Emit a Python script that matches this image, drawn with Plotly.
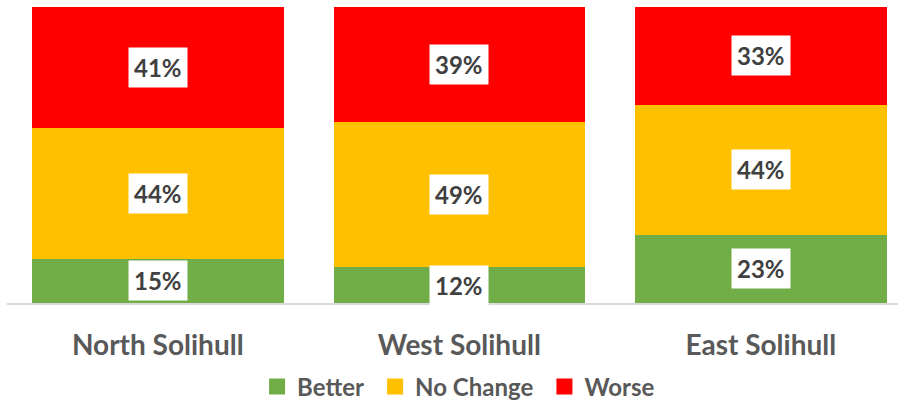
import plotly.graph_objects as go

# Survey outcome share by locality
areas = ["North Solihull", "West Solihull", "East Solihull"]
better = [15, 12, 23]
no_change = [44, 49, 44]
worse = [41, 39, 33]

series = [
    ("Better", better, "#70AD47"),
    ("No Change", no_change, "#FFC000"),
    ("Worse", worse, "#FF0000"),
]

FONT = "Lato"
fig = go.Figure()
for name, vals, color in series:
    fig.add_trace(go.Bar(
        name=name, x=areas, y=vals, marker=dict(color=color, line=dict(width=0)),
        hoverinfo="skip", showlegend=False,
    ))

# Legend keys drawn as larger square swatches
for name, vals, color in series:
    fig.add_trace(go.Scatter(
        name=f"<b>{name}</b>&nbsp;", x=[None], y=[None], mode="markers",
        marker=dict(symbol="square", size=16, color=color),
        showlegend=True, hoverinfo="skip",
    ))

# Value labels in white boxes, centred in each stacked segment
base = [0] * len(areas)
for name, vals, color in series:
    for i, v in enumerate(vals):
        fig.add_annotation(
            x=areas[i], y=base[i] + v / 2, xref="x", yref="y",
            text=f"<b>{v}%</b>", showarrow=False,
            font=dict(family=FONT, size=24, color="#404040"),
            bgcolor="white", borderpad=5,
        )
        base[i] += v

fig.update_layout(
    barmode="stack",
    bargap=0.166,
    width=898, height=401,
    margin=dict(l=7, r=0, t=7, b=98),
    plot_bgcolor="white", paper_bgcolor="white",
    font=dict(family=FONT, color="#595959"),
    showlegend=True,
    legend=dict(
        orientation="h", traceorder="normal",
        x=0.514, xanchor="center", xref="container",
        y=14 / 401, yanchor="middle", yref="container",
        font=dict(family=FONT, size=24, color="#595959"),
        itemwidth=30,
    ),
    xaxis=dict(
        range=[-0.5, 2.455], showgrid=False, zeroline=False,
        showline=True, linecolor="#D9D9D9", linewidth=1.5,
        ticks="", ticklabelstandoff=17,
        tickfont=dict(family=FONT, size=28, color="#595959"),
        tickvals=areas, ticktext=[f"<b>{a}</b>" for a in areas],
    ),
    yaxis=dict(range=[0, 100], visible=False, showgrid=False, zeroline=False),
)

fig.write_html("out.html")
